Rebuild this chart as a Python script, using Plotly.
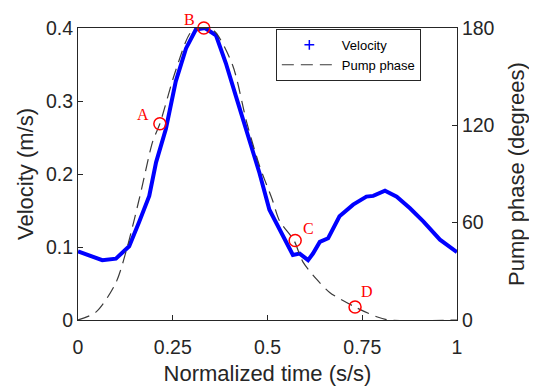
import plotly.graph_objects as go

# Velocity (m/s) vs normalized time
t_vel = [0, 0.038, 0.064, 0.1, 0.135, 0.161, 0.188, 0.206, 0.232, 0.258, 0.285, 0.311, 0.335,
         0.364, 0.39, 0.417, 0.444, 0.479, 0.505, 0.532, 0.55, 0.567, 0.585, 0.607, 0.62, 0.638,
         0.66, 0.69, 0.726, 0.761, 0.779, 0.81, 0.841, 0.876, 0.911, 0.955, 1.0]
velocity = [0.094, 0.087, 0.082, 0.084, 0.101, 0.134, 0.170, 0.216, 0.262, 0.327, 0.372, 0.398, 0.400,
            0.39, 0.352, 0.306, 0.26, 0.201, 0.151, 0.123, 0.105, 0.089, 0.091, 0.082, 0.091, 0.107,
            0.112, 0.142, 0.158, 0.169, 0.17, 0.177, 0.169, 0.153, 0.135, 0.11, 0.093]

# Pump phase (degrees)
t_phase = [0, 0.048, 0.1, 0.13, 0.165, 0.197, 0.216, 0.258, 0.30, 0.332, 0.36, 0.408, 0.445,
           0.479, 0.513, 0.532, 0.57, 0.593, 0.63, 0.664, 0.731, 0.788, 0.82, 1.0]
phase = [0, 5, 23, 45, 78, 110, 121, 154, 178, 180, 178, 157, 122,
         95, 74, 61, 49, 36, 25, 17, 8, 2, 0, 0]

# Marked points
t_marks = [0.216, 0.332, 0.573, 0.731]
phase_marks = [121, 180, 49, 8]
mark_labels = ["A", "B", "C", "D"]

x_ticks = [0, 0.25, 0.5, 0.75, 1]
x_ticklabels = ["0", "0.25", "0.5", "0.75", "1"]
y_ticks = [0, 0.1, 0.2, 0.3, 0.4]
y_ticklabels = ["0", "0.1", "0.2", "0.3", "0.4"]
y2_ticks = [0, 60, 120, 180]

fig = go.Figure()

fig.add_trace(go.Scatter(x=t_vel, y=velocity, mode="lines", line=dict(color="#0000FF", width=4),
                         showlegend=False, hoverinfo="skip"))
# legend-only entry showing the '+' marker style
fig.add_trace(go.Scatter(x=[None], y=[None], mode="markers", name="Velocity",
                         marker=dict(symbol="cross-thin", size=7, line=dict(color="#0000FF", width=1.5),
                                     color="#0000FF")))
fig.add_trace(go.Scatter(x=t_phase, y=phase, mode="lines", name="Pump phase", yaxis="y2",
                         line=dict(color="#3a3a3a", width=1.2, dash="12px,7px", shape="spline", smoothing=0.8)))
fig.add_trace(go.Scatter(x=t_marks, y=phase_marks, mode="markers", yaxis="y2", showlegend=False,
                         cliponaxis=False,
                         marker=dict(symbol="circle-open", size=12, color="#FF0000",
                                     line=dict(width=1.5, color="#FF0000"))))

label_shifts = [(-17, 9), (-14, 9), (13, 12), (12, 16)]
for tx, ph, lab, (dx, dy) in zip(t_marks, phase_marks, mark_labels, label_shifts):
    fig.add_annotation(x=tx, y=ph, xref="x", yref="y2", text=lab, showarrow=False,
                       xshift=dx, yshift=dy,
                       font=dict(family="Liberation Serif", size=16, color="#FF0000"))

axis_font = dict(family="Liberation Sans, Arial", size=19.5, color="#262626")
title_font = dict(family="Liberation Sans, Arial", size=22, color="#262626")

fig.update_layout(
    width=529, height=383,
    margin=dict(l=70, r=80, t=20, b=71, autoexpand=False),
    paper_bgcolor="white", plot_bgcolor="white",
    xaxis=dict(range=[0, 1], tickvals=x_ticks, ticktext=x_ticklabels, ticks="inside", ticklen=5,
               tickcolor="#262626", showline=True, linecolor="#262626", linewidth=1, mirror=True,
               showgrid=False, zeroline=False, tickfont=axis_font, ticklabelstandoff=10,
               automargin=False,
               title=dict(text="Normalized time (s/s)", font=title_font, standoff=8)),
    yaxis=dict(range=[0, 0.4], tickvals=y_ticks, ticktext=y_ticklabels, ticks="inside", ticklen=5,
               tickcolor="#262626", showline=True, linecolor="#262626", linewidth=1,
               showgrid=False, zeroline=False, tickfont=axis_font, automargin=False,
               title=dict(text="Velocity (m/s)", font=title_font, standoff=6)),
    yaxis2=dict(range=[0, 180], tickvals=y2_ticks, overlaying="y", side="right", ticks="inside",
                ticklen=5, tickcolor="#262626", showline=True, linecolor="#262626", linewidth=1,
                showgrid=False, zeroline=False, tickfont=axis_font, automargin=False,
                title=dict(text="Pump phase (degrees)", font=title_font, standoff=15)),
    legend=dict(x=0.522, y=0.997, xanchor="left", yanchor="top", bgcolor="white",
                bordercolor="#262626", borderwidth=1,
                font=dict(family="Liberation Sans, Arial", size=13, color="#000000"),
                tracegroupgap=0, itemwidth=55),
)

fig.write_html("out.html")
